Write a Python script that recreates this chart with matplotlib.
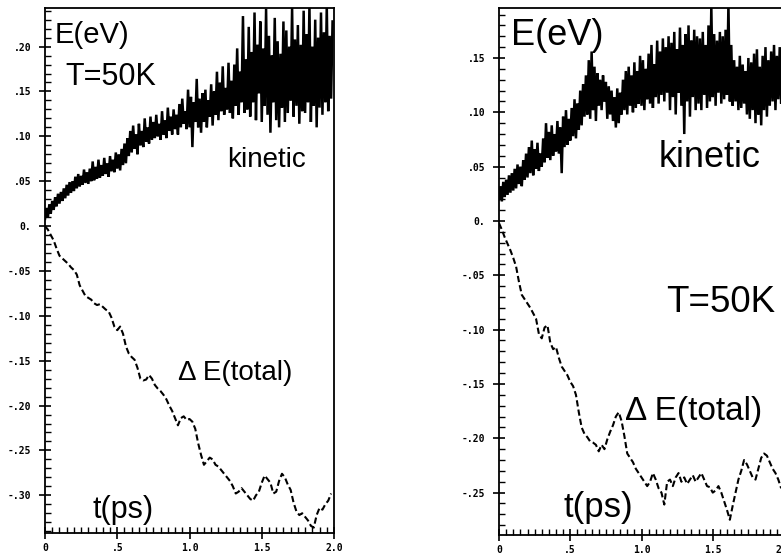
import numpy as np
import matplotlib
matplotlib.use("Agg")
import matplotlib.pyplot as plt
from matplotlib.ticker import MultipleLocator, FixedLocator, FixedFormatter

# ---- data: kinetic energy (sampled every 0.01 ps) and total-energy drift (every 0.02 ps)
kin_left = [
    0.008, 0.020, 0.010, 0.024, 0.014, 0.028, 0.018, 0.032, 0.022, 0.036,
    0.025, 0.038, 0.028, 0.042, 0.031, 0.046, 0.034, 0.049, 0.037, 0.050,
    0.039, 0.055, 0.042, 0.058, 0.044, 0.056, 0.046, 0.063, 0.048, 0.060,
    0.047, 0.064, 0.050, 0.072, 0.051, 0.066, 0.053, 0.074, 0.054, 0.068,
    0.056, 0.076, 0.058, 0.070, 0.055, 0.078, 0.061, 0.074, 0.060, 0.082,
    0.064, 0.080, 0.062, 0.086, 0.068, 0.092, 0.070, 0.098, 0.078, 0.106,
    0.082, 0.112, 0.086, 0.102, 0.080, 0.114, 0.090, 0.106, 0.088, 0.120,
    0.094, 0.110, 0.092, 0.122, 0.096, 0.116, 0.098, 0.124, 0.100, 0.114,
    0.096, 0.128, 0.102, 0.118, 0.098, 0.132, 0.106, 0.122, 0.102, 0.130,
    0.108, 0.124, 0.102, 0.136, 0.110, 0.142, 0.114, 0.128, 0.108, 0.152,
    0.110, 0.144, 0.088, 0.138, 0.116, 0.164, 0.110, 0.142, 0.104, 0.148,
    0.116, 0.152, 0.110, 0.140, 0.122, 0.158, 0.112, 0.150, 0.124, 0.172,
    0.118, 0.160, 0.128, 0.178, 0.124, 0.154, 0.130, 0.182, 0.126, 0.162,
    0.120, 0.180, 0.134, 0.198, 0.124, 0.172, 0.138, 0.234, 0.126, 0.186,
    0.130, 0.222, 0.122, 0.194, 0.138, 0.238, 0.118, 0.202, 0.148, 0.228,
    0.116, 0.198, 0.134, 0.242, 0.124, 0.212, 0.104, 0.190, 0.138, 0.232,
    0.118, 0.206, 0.110, 0.192, 0.132, 0.228, 0.116, 0.218, 0.126, 0.200,
    0.140, 0.244, 0.122, 0.208, 0.134, 0.224, 0.114, 0.202, 0.128, 0.240,
    0.126, 0.214, 0.138, 0.246, 0.116, 0.200, 0.134, 0.230, 0.110, 0.210,
    0.132, 0.238, 0.124, 0.216, 0.138, 0.246, 0.128, 0.212, 0.142, 0.228,
]

dE_left = [
    0.000, -0.004, -0.010, -0.016, -0.025, -0.033, -0.036, -0.039, -0.042, -0.046,
    -0.049, -0.054, -0.066, -0.072, -0.078, -0.080, -0.082, -0.086, -0.088, -0.087,
    -0.090, -0.093, -0.095, -0.102, -0.112, -0.116, -0.112, -0.120, -0.134, -0.142,
    -0.146, -0.149, -0.158, -0.170, -0.172, -0.171, -0.166, -0.170, -0.177, -0.181,
    -0.184, -0.188, -0.193, -0.200, -0.206, -0.214, -0.222, -0.214, -0.212, -0.216,
    -0.215, -0.218, -0.226, -0.242, -0.255, -0.266, -0.262, -0.258, -0.260, -0.266,
    -0.268, -0.272, -0.276, -0.280, -0.284, -0.290, -0.298, -0.296, -0.292, -0.296,
    -0.300, -0.304, -0.306, -0.300, -0.296, -0.286, -0.278, -0.282, -0.286, -0.298,
    -0.296, -0.284, -0.276, -0.280, -0.288, -0.294, -0.308, -0.318, -0.322, -0.320,
    -0.324, -0.328, -0.334, -0.336, -0.322, -0.314, -0.316, -0.310, -0.306, -0.298,
]

kin_right = [
    0.020, 0.032, 0.018, 0.036, 0.022, 0.038, 0.024, 0.042, 0.026, 0.044,
    0.028, 0.048, 0.030, 0.052, 0.034, 0.050, 0.032, 0.056, 0.038, 0.062,
    0.040, 0.068, 0.044, 0.074, 0.042, 0.066, 0.048, 0.072, 0.046, 0.062,
    0.050, 0.076, 0.054, 0.090, 0.058, 0.082, 0.056, 0.088, 0.060, 0.080,
    0.064, 0.092, 0.062, 0.086, 0.044, 0.096, 0.068, 0.102, 0.070, 0.094,
    0.074, 0.104, 0.078, 0.112, 0.076, 0.108, 0.084, 0.120, 0.088, 0.126,
    0.096, 0.134, 0.098, 0.148, 0.094, 0.156, 0.102, 0.142, 0.092, 0.136,
    0.106, 0.130, 0.102, 0.134, 0.110, 0.128, 0.094, 0.124, 0.098, 0.120,
    0.092, 0.114, 0.086, 0.122, 0.090, 0.118, 0.098, 0.130, 0.102, 0.138,
    0.098, 0.142, 0.106, 0.134, 0.100, 0.146, 0.104, 0.138, 0.108, 0.152,
    0.106, 0.148, 0.102, 0.140, 0.112, 0.154, 0.108, 0.162, 0.104, 0.144,
    0.114, 0.166, 0.108, 0.156, 0.116, 0.168, 0.110, 0.160, 0.118, 0.170,
    0.102, 0.164, 0.114, 0.174, 0.098, 0.158, 0.118, 0.178, 0.106, 0.162,
    0.080, 0.172, 0.110, 0.180, 0.096, 0.166, 0.114, 0.176, 0.102, 0.170,
    0.108, 0.168, 0.102, 0.174, 0.116, 0.162, 0.104, 0.180, 0.110, 0.198,
    0.114, 0.172, 0.106, 0.166, 0.118, 0.174, 0.108, 0.170, 0.112, 0.176,
    0.116, 0.200, 0.110, 0.162, 0.106, 0.148, 0.110, 0.142, 0.102, 0.152,
    0.104, 0.144, 0.108, 0.138, 0.098, 0.150, 0.094, 0.146, 0.102, 0.154,
    0.090, 0.158, 0.098, 0.142, 0.088, 0.152, 0.102, 0.160, 0.096, 0.148,
    0.106, 0.156, 0.110, 0.162, 0.102, 0.152, 0.112, 0.160, 0.108, 0.150,
]

dE_right = [
    -0.002, -0.008, -0.015, -0.021, -0.027, -0.034, -0.042, -0.056, -0.068, -0.072,
    -0.076, -0.080, -0.085, -0.090, -0.104, -0.108, -0.098, -0.096, -0.112, -0.118,
    -0.116, -0.126, -0.134, -0.138, -0.142, -0.148, -0.152, -0.160, -0.176, -0.190,
    -0.196, -0.199, -0.203, -0.204, -0.206, -0.212, -0.206, -0.210, -0.201, -0.194,
    -0.188, -0.180, -0.176, -0.184, -0.198, -0.214, -0.218, -0.222, -0.228, -0.232,
    -0.236, -0.240, -0.244, -0.240, -0.232, -0.238, -0.246, -0.250, -0.261, -0.240,
    -0.238, -0.244, -0.236, -0.232, -0.240, -0.236, -0.242, -0.238, -0.234, -0.240,
    -0.236, -0.232, -0.238, -0.244, -0.245, -0.250, -0.248, -0.244, -0.250, -0.258,
    -0.266, -0.275, -0.262, -0.250, -0.238, -0.230, -0.220, -0.224, -0.230, -0.236,
    -0.238, -0.228, -0.218, -0.214, -0.216, -0.222, -0.228, -0.232, -0.238, -0.246,
]

t_kin = np.arange(len(kin_left)) * 0.01
t_dE = np.arange(len(dE_left)) * 0.02

x_ticks = [0.0, 0.5, 1.0, 1.5, 2.0]
x_labels = ["0", ".5", "1.0", "1.5", "2.0"]
y_ticks_left = [0.20, 0.15, 0.10, 0.05, 0.0, -0.05, -0.10, -0.15, -0.20, -0.25, -0.30]
y_labels_left = [".20", ".15", ".10", ".05", "0.", "-.05", "-.10", "-.15", "-.20", "-.25", "-.30"]
y_ticks_right = [0.15, 0.10, 0.05, 0.0, -0.05, -0.10, -0.15, -0.20, -0.25]
y_labels_right = [".15", ".10", ".05", "0.", "-.05", "-.10", "-.15", "-.20", "-.25"]

W, H = 781, 556
fig = plt.figure(figsize=(W / 100, H / 100), dpi=100)
fig.patch.set_facecolor("white")

ax_l = fig.add_axes([45 / W, (H - 533) / H, 289 / W, 525 / H])
ax_r = fig.add_axes([499 / W, (H - 535) / H, 285 / W, 527 / H])

label_font = dict(family="DejaVu Sans Mono", weight="bold", size=7)


def style_axes(ax, yt, yl, ylim):
    ax.set_xlim(0.0, 2.0)
    ax.set_ylim(*ylim)
    ax.xaxis.set_major_locator(FixedLocator(x_ticks))
    ax.xaxis.set_major_formatter(FixedFormatter(x_labels))
    ax.xaxis.set_minor_locator(MultipleLocator(0.05))
    ax.yaxis.set_major_locator(FixedLocator(yt))
    ax.yaxis.set_major_formatter(FixedFormatter(yl))
    ax.yaxis.set_minor_locator(MultipleLocator(0.01))
    ax.tick_params(which="major", direction="inout", length=8, width=1.2,
                   top=False, right=False)
    ax.tick_params(axis="y", which="major", pad=6)
    ax.tick_params(axis="x", which="major", pad=3)
    ax.tick_params(which="minor", direction="in", length=4, width=1.0,
                   top=False, right=False)
    for lab in ax.get_xticklabels() + ax.get_yticklabels():
        lab.set_fontfamily(label_font["family"])
        lab.set_fontweight(label_font["weight"])
        lab.set_fontsize(label_font["size"])
    for sp in ax.spines.values():
        sp.set_linewidth(1.3)


style_axes(ax_l, y_ticks_left, y_labels_left, (-0.342, 0.243))
style_axes(ax_r, y_ticks_right, y_labels_right, (-0.289, 0.196))

for ax, kin, dE in ((ax_l, kin_left, dE_left), (ax_r, kin_right, dE_right)):
    ax.plot(t_kin, kin, color="black", lw=1.8, solid_joinstyle="miter")
    ax.plot(t_dE, dE, color="black", lw=1.5, linestyle=(0, (3, 1.5)))

txt = dict(family="Liberation Sans", color="black", va="baseline", ha="left")

ax_l.text(0.07, 0.204, "E(eV)", size=21, **txt)
ax_l.text(0.14, 0.157, "T=50K", size=22, **txt)
ax_l.text(1.26, 0.066, "kinetic", size=20, **txt)
ax_l.text(0.92, -0.171, "\u0394 E(total)", size=20, **txt)
ax_l.text(0.33, -0.3256, "t(ps)", size=22, **txt)

ax_r.text(0.085, 0.162, "E(eV)", size=26, **txt)
ax_r.text(1.12, 0.050, "kinetic", size=26, **txt)
ax_r.text(1.17, -0.084, "T=50K", size=26.5, **txt)
ax_r.text(0.887, -0.183, "\u0394 E(total)", size=24, **txt)
ax_r.text(0.45, -0.272, "t(ps)", size=25, **txt)

fig.savefig("out.png", dpi=100)
